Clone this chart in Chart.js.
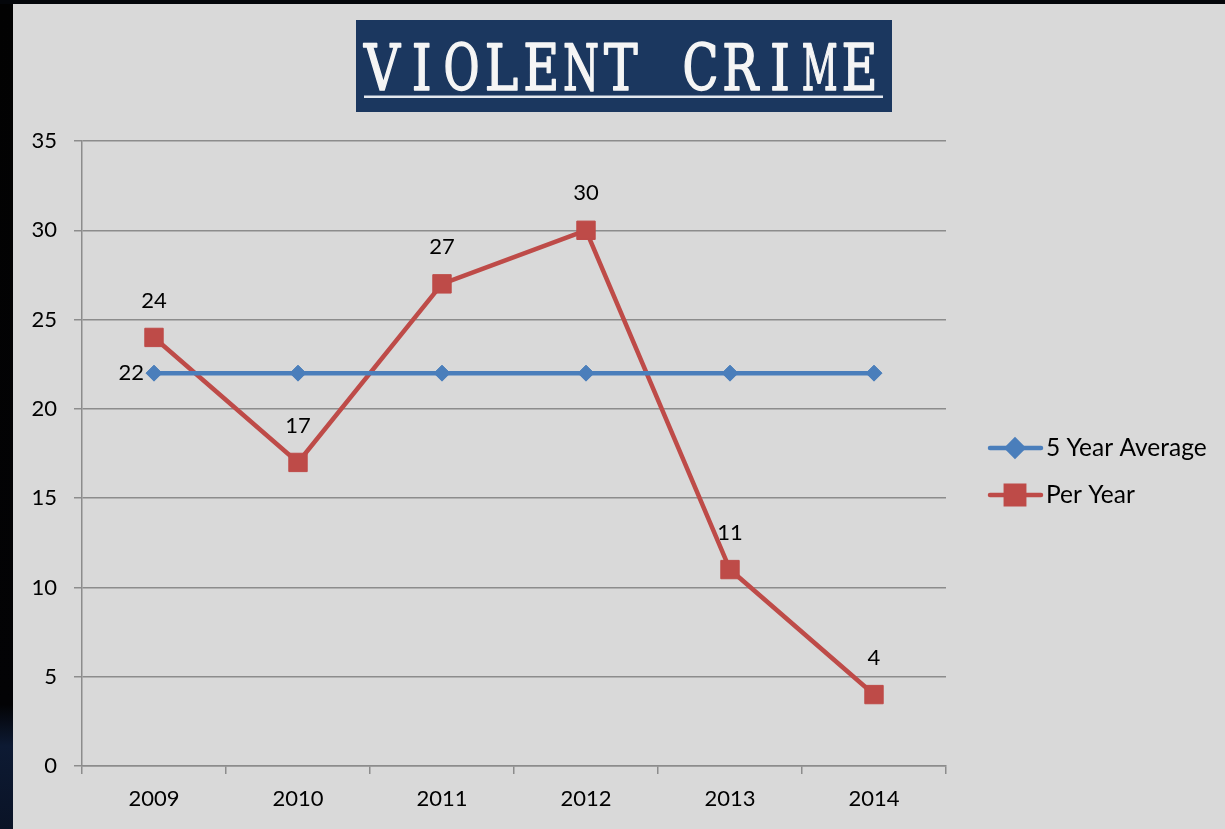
<!DOCTYPE html>
<html>
<head>
<meta charset="utf-8">
<script src="https://cdn.jsdelivr.net/npm/chart.js@4"></script>
<style>
  html, body { margin: 0; padding: 0; background: #d9d9d9; overflow: hidden; }
  #wrap { position: relative; width: 1225px; height: 829px; }
  #leftEdge { position: absolute; left: 0; top: 0; width: 13px; height: 829px;
    background: linear-gradient(#020202 0%, #030305 85%, #0d1a33 90%, #0a1326 100%); }
  #topEdge { position: absolute; left: 0; top: 0; width: 1225px; height: 4px; background: #04060a; }
</style>
</head>
<body>
<div id="wrap">
  <canvas id="crimeChart" width="1225" height="829"></canvas>
  <div id="leftEdge"></div>
  <div id="topEdge"></div>
</div>
<script>
const years = ["2009", "2010", "2011", "2012", "2013", "2014"];
const fiveYearAverage = [22, 22, 22, 22, 22, 22];
const perYear = [24, 17, 27, 30, 11, 4];
const yTicks = [0, 5, 10, 15, 20, 25, 30, 35];

const chartTitle = "VIOLENT CRIME";
const BLUE = "#4a7ebb";
const RED = "#be4b48";
const GRID = "#8c8c8c";
const FONT = "Lato";

// title box, typewriter style: every letter centred in a fixed cell
const titlePlugin = {
  id: "titleBox",
  afterDraw(chart) {
    const ctx = chart.ctx;
    ctx.save();
    ctx.fillStyle = "#1b375f";
    ctx.fillRect(356, 20, 536, 92);
    ctx.fillStyle = "#f5f5f5";
    ctx.strokeStyle = "#f5f5f5";
    ctx.lineWidth = 1.6;
    ctx.lineJoin = "round";
    ctx.font = "63px 'DejaVu Serif'";
    ctx.textBaseline = "alphabetic";
    ctx.textAlign = "center";
    const cell = 39.8;
    chartTitle.split("").forEach((ch, i) => {
      const w = ctx.measureText(ch).width || 1;
      const sx = Math.min(0.8, 36 / w);
      ctx.save();
      ctx.translate(382 + i * cell, 89.5);
      ctx.scale(sx, 1);
      ctx.fillText(ch, 0, 0);
      ctx.strokeText(ch, 0, 0);
      ctx.restore();
    });
    ctx.fillStyle = "#e3e8ef";
    ctx.fillRect(364, 95.5, 519, 2.5);
    ctx.restore();
  }
};

// value labels next to points
const valueLabels = {
  id: "valueLabels",
  afterDatasetsDraw(chart) {
    const ctx = chart.ctx;
    ctx.save();
    ctx.font = "22px " + FONT;
    ctx.fillStyle = "#000";
    ctx.textBaseline = "middle";
    const avgMeta = chart.getDatasetMeta(0);
    const p0 = avgMeta.data[0];
    ctx.textAlign = "right";
    ctx.fillText(String(fiveYearAverage[0]), p0.x - 10, p0.y);
    const meta = chart.getDatasetMeta(1);
    ctx.textAlign = "center";
    meta.data.forEach((pt, i) => {
      ctx.fillText(String(perYear[i]), pt.x, pt.y - 37);
    });
    ctx.restore();
  }
};

// legend: line + marker like the original
const sideLegend = {
  id: "sideLegend",
  afterDraw(chart) {
    const ctx = chart.ctx;
    const rows = [448, 495];
    chart.data.datasets.forEach((ds, i) => {
      const y = rows[i];
      ctx.save();
      ctx.strokeStyle = ds.borderColor;
      ctx.lineWidth = 4.5;
      ctx.lineCap = "round";
      ctx.beginPath();
      ctx.moveTo(990, y);
      ctx.lineTo(1041, y);
      ctx.stroke();
      Chart.helpers.drawPoint(ctx, {
        pointStyle: ds.pointStyle,
        radius: ds.pointRadius,
        borderWidth: 1
      }, 1015, y);
      ctx.fillStyle = ds.pointBackgroundColor;
      ctx.fill();
      ctx.font = "24.5px " + FONT;
      ctx.fillStyle = "#000";
      ctx.textBaseline = "middle";
      ctx.textAlign = "left";
      ctx.fillText(ds.label, 1046, y);
      ctx.restore();
    });
  }
};

const canvas = document.getElementById("crimeChart");
new Chart(canvas.getContext("2d"), {
  type: "line",
  data: {
    labels: years,
    datasets: [
      {
        label: "5 Year Average",
        data: fiveYearAverage,
        borderColor: BLUE,
        backgroundColor: BLUE,
        pointBackgroundColor: BLUE,
        pointBorderColor: BLUE,
        borderWidth: 4.5,
        pointStyle: "rectRot",
        pointRadius: 8,
        pointBorderWidth: 1,
        tension: 0
      },
      {
        label: "Per Year",
        data: perYear,
        borderColor: RED,
        backgroundColor: RED,
        pointBackgroundColor: RED,
        pointBorderColor: RED,
        borderWidth: 4.5,
        pointStyle: "rect",
        pointRadius: 13,
        pointBorderWidth: 1,
        tension: 0
      }
    ]
  },
  plugins: [
    { id: "bg", beforeDraw(c) { c.ctx.save(); c.ctx.fillStyle = "#d9d9d9"; c.ctx.fillRect(0, 0, c.width, c.height); c.ctx.restore(); } },
    valueLabels, sideLegend, titlePlugin
  ],
  options: {
    responsive: false,
    animation: false,
    layout: { padding: { top: 141, right: 279, left: 0, bottom: 0 } },
    plugins: { legend: { display: false }, tooltip: { enabled: false }, title: { display: false } },
    scales: {
      x: {
        offset: true,
        grid: { display: true, offset: true, drawOnChartArea: false, drawTicks: true, tickLength: 8, color: GRID, lineWidth: 1.5 },
        border: { display: true, color: GRID, width: 1.5 },
        ticks: { color: "#000", font: { family: FONT, size: 22 }, padding: 12 },
        afterFit(s) { s.height = 63; }
      },
      y: {
        min: 0,
        max: 35,
        afterBuildTicks(s) { s.ticks = yTicks.map(v => ({ value: v })); },
        grid: { color: GRID, lineWidth: 1.5, tickLength: 8 },
        border: { display: true, color: GRID, width: 1.5 },
        ticks: { color: "#000", font: { family: FONT, size: 22 }, padding: 17 },
        afterFit(s) { s.width = 82; }
      }
    }
  }
});
</script>
</body>
</html>
